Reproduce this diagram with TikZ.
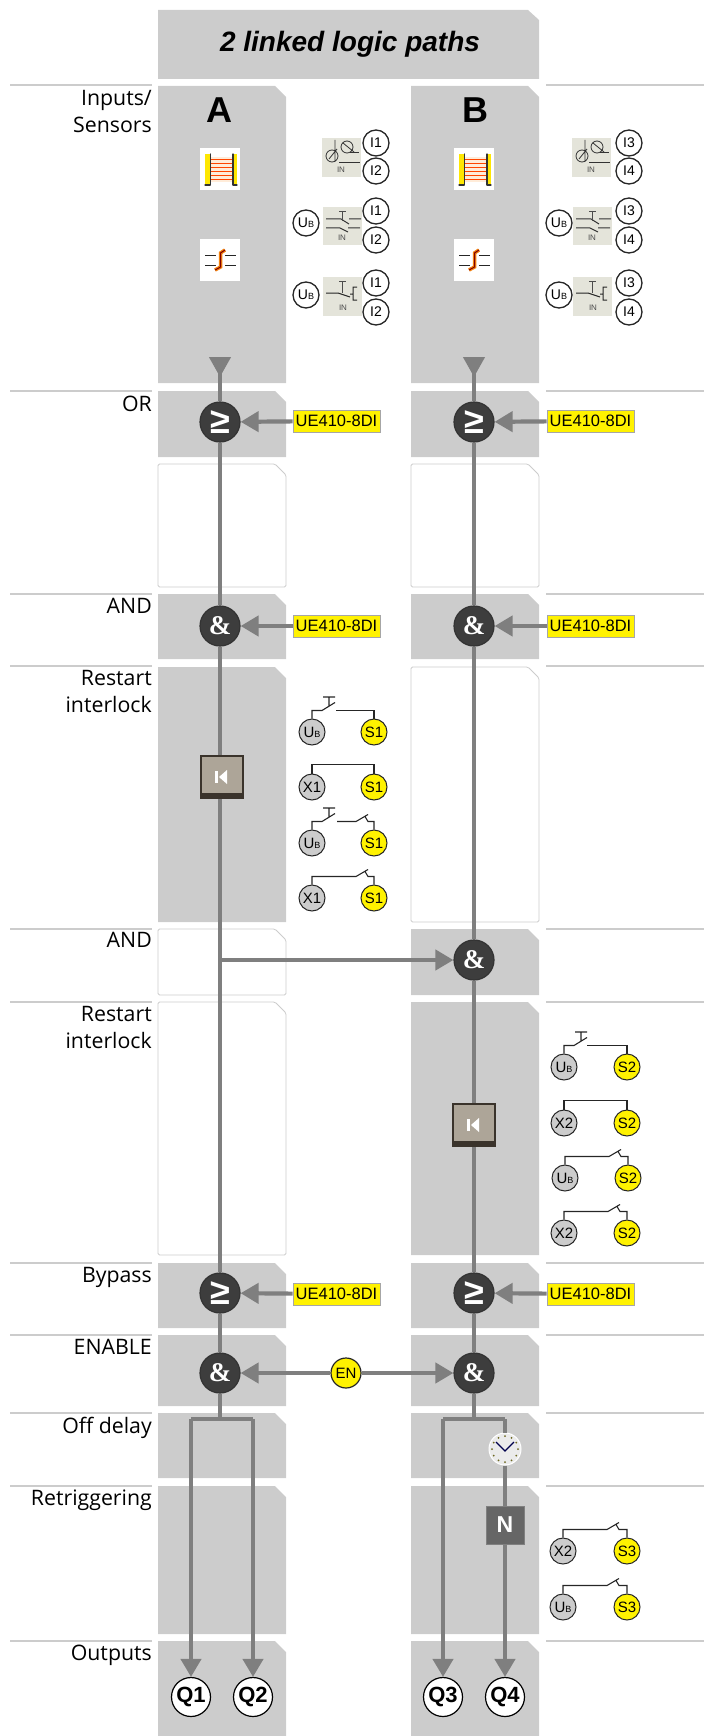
\documentclass[tikz,border=0pt]{standalone}
\usepackage{fontspec}
\setmainfont{Liberation Sans}
\newfontfamily\rowfont{Open Sans}
\newfontfamily\ampfont{Liberation Serif}
\usepackage{tikz}
\usetikzlibrary{
    calc,
    arrows.meta
}
\definecolor{bandgray}{HTML}{CCCCCC}
\definecolor{flowgray}{HTML}{7F7F7F}
\definecolor{gatedark}{HTML}{3D3D3D}
\definecolor{sigyellow}{HTML}{FFF200}
\definecolor{iconbeige}{HTML}{E4E4DA}
\definecolor{keybeige}{HTML}{ADA598}
\definecolor{keyframe}{HTML}{3A332B}
\newcommand{\ubname}{U{\fontsize{9}{9}\selectfont B}}
\tikzset{
    band/.pic={\fill[bandgray] (0,0) -- (117,0) -- (128,11) -- (128,#1) -- (0,#1) -- cycle;},
    blankband/.pic={\draw[bandgray,line width=0.8pt,fill=white,rounded corners=1.5pt] (0,0) -- (117,0) -- (128,11) -- (128,#1) -- (0,#1) -- cycle;},
    rowsep/.style={bandgray,line width=1.2pt},
    rowlabel/.style={font=\rowfont\fontsize{21.3}{27}\selectfont,align=right,anchor=north east,inner sep=0pt,text=black},
    flow/.style={flowgray,line width=4.2pt},
    tipflow/.style={flow,-{Triangle[length=18pt,width=20pt]}},
    orgate/.style={circle,fill=gatedark,draw=black!80,line width=1.2pt,minimum size=40pt,inner sep=0pt,text=white,font=\bfseries\fontsize{36}{36}\selectfont},
    andgate/.style={orgate,font=\ampfont\bfseries\fontsize{27}{27}\selectfont},
    tag/.style={fill=sigyellow,draw=black!35,line width=0.6pt,minimum width=87pt,minimum height=22pt,inner sep=0pt,font=\fontsize{16.5}{16.5}\selectfont},
    term/.style={circle,fill=white,draw=black!85,line width=1.3pt,minimum size=26pt,inner sep=0pt,font=\fontsize{14}{14}\selectfont},
    gterm/.style={term,fill=bandgray,line width=1pt,font=\fontsize{15}{15}\selectfont},
    yterm/.style={gterm,fill=sigyellow},
    outterm/.style={circle,fill=white,draw=black,line width=1.2pt,minimum size=39pt,inner sep=0pt,font=\bfseries\fontsize{22}{22}\selectfont},
    wire/.style={black!85,line width=1.1pt},
    resetkey/.style={rectangle,fill=keybeige,draw=keyframe,line width=2pt,minimum size=42pt,
        path picture={
            \fill[keyframe] (path picture bounding box.south west) rectangle ($(path picture bounding box.south east)+(0,-5)$);
            \fill[white] ($(path picture bounding box.center)+(-7,-6)$) rectangle ++(3,12);
            \fill[white] ($(path picture bounding box.center)+(-3,0)$) -- ++(8,-7) -- ++(0,14) -- cycle;
        }},
    clockface/.style={circle,fill=black!8,draw=white,line width=1pt,minimum size=32pt,inner sep=0pt,
        path picture={
            \foreach \tickang in {0,30,...,330}
                \fill[olive!70!black] (path picture bounding box.center) ++(\tickang:13) circle (1);
            \draw[blue!30!black,line width=1.2pt] ($(path picture bounding box.center)+(-9,-7)$) -- ($(path picture bounding box.center)+(0,2)$) -- ($(path picture bounding box.center)+(9,-7)$);
        }},
    curtain/.pic={
        \fill[white] (0,0) rectangle (40,42);
        \fill[orange!15] (11,9) rectangle (33,34);
        \foreach \beamy in {11,15,...,31}
            \draw[red!45!orange,line width=0.8pt] (11,\beamy) -- (33,\beamy);
        \fill[yellow!90!orange] (5,6) rectangle (10,37);
        \draw[black!80,line width=1.2pt,line cap=round] (10.5,6) -- (10.5,37) (5,37) -- (10,37);
        \fill[yellow!90!orange] (33,6) rectangle (37,37);
        \draw[black!80,line width=1.2pt,line cap=round] (33,6) -- (33,37) (33,37) -- (37,37);
    },
    muting/.pic={
        \fill[white] (0,0) rectangle (40,42);
        \draw[black!85,line width=1pt] (5,17) -- (16,17) (25,17) -- (36,17) (5,26) -- (16,26) (25,26) -- (36,26);
        \draw[orange!80!brown,line width=3.5pt] (25,11) -- (20.5,14) -- (20.5,28) -- (15,31);
        \draw[red!50!black,line width=1pt] (25,11) -- (20.5,14) -- (20.5,28) -- (15,31);
    },
    photoicon/.pic={
        \fill[iconbeige] (0,0) rectangle (39,39);
        \draw[black!80,line width=0.8pt] (10,18) circle (6) (13,2) -- (13,24) (7,21) -- (15,11) (25,9) circle (6) (21,5) -- (32,14);
        \draw[black!80,line width=1pt] (17,25) -- (38,25) (28,15) -- (37,15);
        \node[font=\fontsize{8}{8}\selectfont,inner sep=0pt,text=black!70] (pin) at (19,32) {IN};
    },
    doubleicon/.pic={
        \fill[iconbeige] (0,0) rectangle (39,38);
        \draw[black!80,line width=1pt] (3,12) -- (18,12) -- (26,17) (26,12) -- (38,12) (3,21) -- (17,21) -- (25,25) (25,21) -- (37,21);
        \draw[black!70,line width=0.7pt] (16,4) -- (23,4) (19.5,4) -- (19.5,14);
        \node[font=\fontsize{8}{8}\selectfont,inner sep=0pt,text=black!70] (din) at (19,31) {IN};
    },
    singleicon/.pic={
        \fill[iconbeige] (0,0) rectangle (39,39);
        \draw[black!85,line width=1pt] (3,16) -- (15,16) -- (27,20) (34,10) -- (30,10) -- (30,23) -- (34,23) (27,17) -- (30,17);
        \draw[black!70,line width=0.7pt] (16,4) -- (23,4) (19.5,4) -- (19.5,16);
        \node[font=\fontsize{8}{8}\selectfont,inner sep=0pt,text=black!70] (sin) at (20,31) {IN};
    }
}

\begin{document}
\begin{tikzpicture}[x=1pt,y=-1pt]
\useasboundingbox (0,0) rectangle (704,1736);

% header
\fill[bandgray] (158,10) -- (528,10) -- (539,20) -- (539,79) -- (158,79) -- cycle;
\node[font=\bfseries\itshape\fontsize{28}{28}\selectfont] (title) at (350,44) {2 linked logic paths};

% rows, path A
\pic at (158,86) {band=297};
\pic at (158,391) {band=66};
\pic at (158,464) {blankband=123};
\pic at (158,594) {band=65};
\pic at (158,667) {band=255};
\pic at (158,929) {blankband=66};
\pic at (158,1002) {blankband=253};
\pic at (158,1263) {band=65};
\pic at (158,1335) {band=71};
\pic at (158,1413) {band=65};
\pic at (158,1486) {band=148};
\pic at (158,1641) {band=95};

% rows, path B
\pic at (411,86) {band=297};
\pic at (411,391) {band=66};
\pic at (411,464) {blankband=123};
\pic at (411,594) {band=65};
\pic at (411,667) {blankband=255};
\pic at (411,929) {band=66};
\pic at (411,1002) {band=253};
\pic at (411,1263) {band=65};
\pic at (411,1335) {band=71};
\pic at (411,1413) {band=65};
\pic at (411,1486) {band=148};
\pic at (411,1641) {band=95};

\foreach \sepy in {85,391,594,666,929,1002,1263,1335,1413,1486,1641} {
    \draw[rowsep] (10,\sepy) -- (152,\sepy);
    \draw[rowsep] (546,\sepy) -- (704,\sepy);
}

\node[rowlabel] (linputs) at (152,90) {Inputs/\\Sensors};
\node[rowlabel] (lor) at (152,396) {OR};
\node[rowlabel] (land) at (152,598) {AND};
\node[rowlabel] (lrestarta) at (152,670) {Restart\\interlock};
\node[rowlabel] (landb) at (152,932) {AND};
\node[rowlabel] (lrestartb) at (152,1006) {Restart\\interlock};
\node[rowlabel] (lbypass) at (152,1267) {Bypass};
\node[rowlabel] (lenable) at (152,1339) {ENABLE};
\node[rowlabel] (loff) at (152,1417) {Off delay};
\node[rowlabel] (lretrig) at (152,1490) {Retriggering};
\node[rowlabel] (loutputs) at (152,1645) {Outputs};

\node[font=\bfseries\fontsize{36}{36}\selectfont] (heada) at (219,110) {A};
\node[font=\bfseries\fontsize{36}{36}\selectfont] (headb) at (475,110) {B};

% sensors
\pic at (200,148) {curtain};
\pic at (200,239) {muting};
\pic at (454,148) {curtain};
\pic at (454,239) {muting};

\pic at (322,138) {photoicon};
\pic at (323,207) {doubleicon};
\pic at (323,277) {singleicon};
\pic at (572,138) {photoicon};
\pic at (573,207) {doubleicon};
\pic at (573,277) {singleicon};

\node[term] (ione) at (376,143) {I1};
\node[term] (itwo) at (376,171) {I2};
\node[term] (ioneb) at (376,211) {I1};
\node[term] (itwob) at (376,240) {I2};
\node[term] (ionec) at (376,283) {I1};
\node[term] (itwoc) at (376,312) {I2};
\node[term] (ubab) at (306,223) {\ubname};
\node[term] (ubac) at (306,295) {\ubname};

\node[term] (ithree) at (629,143) {I3};
\node[term] (ifour) at (629,171) {I4};
\node[term] (ithreeb) at (629,211) {I3};
\node[term] (ifourb) at (629,240) {I4};
\node[term] (ithreec) at (629,283) {I3};
\node[term] (ifourc) at (629,312) {I4};
\node[term] (ubbb) at (559,223) {\ubname};
\node[term] (ubbc) at (559,295) {\ubname};

% logic path A
\coordinate (ina) at (220,357);
\node[orgate] (ora) at (220,422) {≥};
\node[andgate] (anda) at (220,626) {\&};
\node[resetkey] (rsta) at (222,777) {};
\coordinate (joina) at (220,960);
\node[orgate] (bypa) at (220,1293) {≥};
\node[andgate] (ena) at (220,1373) {\&};
\coordinate (fana) at (220,1419);
\coordinate (fanaq) at (191,1419);
\coordinate (fanar) at (253,1419);
\node[outterm] (qone) at (191,1697) {Q1};
\node[outterm] (qtwo) at (253,1697) {Q2};

% logic path B
\coordinate (inb) at (474,357);
\node[orgate] (orb) at (474,422) {≥};
\node[andgate] (andb) at (474,626) {\&};
\node[andgate] (andc) at (474,960) {\&};
\node[resetkey] (rstb) at (474,1125) {};
\node[orgate] (bypb) at (474,1293) {≥};
\node[andgate] (enb) at (474,1373) {\&};
\coordinate (fanb) at (474,1419);
\coordinate (fanbq) at (443,1419);
\coordinate (fanbr) at (505,1419);
\node[clockface] (clk) at (505,1449) {};
\node[rectangle,fill=black!60,draw=black!50,line width=1pt,minimum size=38pt,inner sep=0pt,text=white,font=\bfseries\fontsize{23}{23}\selectfont] (nbox) at (505,1525) {N};
\node[outterm] (qthree) at (443,1697) {Q3};
\node[outterm] (qfour) at (505,1697) {Q4};

\node[tag] (tagora) at (336.5,421) {UE410-8DI};
\node[tag] (taganda) at (336.5,626) {UE410-8DI};
\node[tag] (tagbypa) at (336.5,1294) {UE410-8DI};
\node[tag] (tagorb) at (590.5,421) {UE410-8DI};
\node[tag] (tagandb) at (590.5,626) {UE410-8DI};
\node[tag] (tagbypb) at (590.5,1294) {UE410-8DI};
\node[yterm,font=\fontsize{15}{15}\selectfont,line width=1.2pt,minimum size=30pt] (en) at (346,1373) {EN};

\draw[flow,{Triangle[length=20pt,width=21pt,reversed]}-] (ina) -- (ora);
\draw[flow] (ora) -- (anda);
\draw[flow] (anda) -- (anda |- rsta.north);
\draw[flow] (joina |- rsta.south) -- (joina) -- (bypa);
\draw[flow] (bypa) -- (ena);
\draw[flow] (ena) -- (fana);
\draw[flow] (fanaq) -- (fanar);
\draw[tipflow] (fanaq) -- (qone);
\draw[tipflow] (fanar) -- (qtwo);

\draw[flow,{Triangle[length=20pt,width=21pt,reversed]}-] (inb) -- (orb);
\draw[flow] (orb) -- (andb);
\draw[flow] (andb) -- (andc);
\draw[flow] (andc) -- (rstb);
\draw[flow] (rstb) -- (bypb);
\draw[flow] (bypb) -- (enb);
\draw[flow] (enb) -- (fanb);
\draw[flow] (fanbq) -- (fanbr);
\draw[tipflow] (fanbq) -- (qthree);
\draw[flow] (fanbr) -- (clk);
\draw[flow] (clk) -- (nbox);
\draw[tipflow] (nbox) -- (qfour);

\draw[tipflow] (joina) -- (andc);
\draw[tipflow] (tagora) -- (ora);
\draw[tipflow] (taganda) -- (anda);
\draw[tipflow] (tagbypa) -- (bypa);
\draw[tipflow] (tagorb) -- (orb);
\draw[tipflow] (tagandb) -- (andb);
\draw[tipflow] (tagbypb) -- (bypb);
\draw[tipflow] (en) -- (ena);
\draw[tipflow] (en) -- (enb);

% restart wiring, path A
\node[gterm] (uaone) at (312,732) {\ubname};
\node[yterm] (saone) at (374,732) {S1};
\draw[wire] (uaone.north) -- ++(0,-8) -- ++(10,0) -- ++(13,-8) ++(-6,3.5) -- ++(0,-9) ++(-6,0) -- ++(12,0);
\draw[wire] (saone.north) -- ++(0,-8) -- ++(-38,0);

\node[gterm] (xaone) at (312,787) {X1};
\node[yterm] (satwo) at (374,787) {S1};
\draw[wire] (xaone.north) |- ($(satwo.north)+(0,-9)$) -- (satwo.north);

\node[gterm] (uatwo) at (312,843) {\ubname};
\node[yterm] (sathree) at (374,843) {S1};
\draw[wire] (uatwo.north) -- ++(0,-8) -- ++(10,0) -- ++(13,-8) ++(-6,3.5) -- ++(0,-9) ++(-6,0) -- ++(12,0);
\draw[wire] ($(uatwo.north)+(25,-8)$) -- ++(19,0) -- ++(12,-7) ++(-3,2) -- ++(3,5) -| (sathree.north);

\node[gterm] (xatwo) at (312,898) {X1};
\node[yterm] (safour) at (374,898) {S1};
\draw[wire] (xatwo.north) -- ++(0,-8) -- ++(44,0) -- ++(12,-7) ++(-3,2) -- ++(3,5) -| (safour.north);

% restart wiring, path B
\node[gterm] (ubone) at (564,1067) {\ubname};
\node[yterm] (sbone) at (627,1067) {S2};
\draw[wire] (ubone.north) -- ++(0,-8) -- ++(10,0) -- ++(13,-8) ++(-6,3.5) -- ++(0,-9) ++(-6,0) -- ++(12,0);
\draw[wire] (sbone.north) -- ++(0,-8) -- ++(-40,0);

\node[gterm] (xbone) at (564,1123) {X2};
\node[yterm] (sbtwo) at (627,1123) {S2};
\draw[wire] (xbone.north) |- ($(sbtwo.north)+(0,-9)$) -- (sbtwo.north);

\node[gterm] (ubtwo) at (565,1178) {\ubname};
\node[yterm] (sbthree) at (628,1178) {S2};
\draw[wire] (ubtwo.north) -- ++(0,-8) -- ++(44,0) -- ++(12,-7) ++(-3,2) -- ++(3,5) -| (sbthree.north);

\node[gterm] (xbtwo) at (564,1233) {X2};
\node[yterm] (sbfour) at (627,1233) {S2};
\draw[wire] (xbtwo.north) -- ++(0,-8) -- ++(44,0) -- ++(12,-7) ++(-3,2) -- ++(3,5) -| (sbfour.north);

% retriggering wiring
\node[gterm] (xcone) at (563,1551) {X2};
\node[yterm] (scone) at (627,1551) {S3};
\draw[wire] (xcone.north) -- ++(0,-8) -- ++(44,0) -- ++(12,-7) ++(-3,2) -- ++(3,5) -| (scone.north);

\node[gterm] (ucone) at (563,1607) {\ubname};
\node[yterm] (sctwo) at (627,1607) {S3};
\draw[wire] (ucone.north) -- ++(0,-8) -- ++(44,0) -- ++(12,-7) ++(-3,2) -- ++(3,5) -| (sctwo.north);

\end{tikzpicture}
\end{document}
